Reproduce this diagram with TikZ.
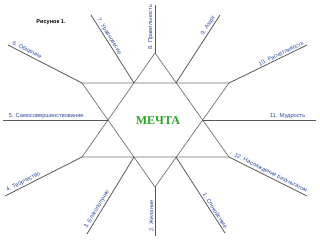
\documentclass[tikz,border=0pt]{standalone}
\usepackage{fontspec}
\setmainfont{Liberation Sans}
\newfontfamily\dreamfont{Liberation Serif}
\usetikzlibrary{positioning}
\definecolor{lblblue}{RGB}{45,75,165}
\definecolor{dreamgreen}{RGB}{40,165,40}

\begin{document}
\begin{tikzpicture}[x=1pt, y=-1pt,
	star/.style={draw=black!55, line width=0.7pt},
	spoke/.style={draw=black!65, line width=0.8pt},
	lbl/.style={text=lblblue, font=\fontsize{5.7}{6}\selectfont, inner sep=1.2pt}]
	\fill[white] (0,0) rectangle (320,243);
	\useasboundingbox (0,0) rectangle (320,243);
	\node (fig) [font=\bfseries\fontsize{5.6}{6}\selectfont] at (51,22) {Рисунок 1.};
	% outer points of the star
	\coordinate (top) at (155,53);
	\coordinate (bot) at (155,187);
	\coordinate (ul) at (82,83);
	\coordinate (ur) at (229,83);
	\coordinate (ll) at (82,157);
	\coordinate (lr) at (229,157);
	% inner points
	\coordinate (iul) at (134,83);
	\coordinate (iur) at (176,83);
	\coordinate (ill) at (134,157);
	\coordinate (ilr) at (176,157);
	\coordinate (ml) at (108,120);
	\coordinate (mr) at (202,120);
	\draw[star] (top) -- (ll) -- (lr) -- cycle;
	\draw[star] (ul) -- (ur) -- (bot) -- cycle;
	\node (dream) [text=dreamgreen, font=\dreamfont\bfseries\fontsize{12}{12}\selectfont] at (158,121) {МЕЧТА};
	% free ends of the spokes
	\coordinate (e1) at (225,233);
	\coordinate (e2) at (155,236);
	\coordinate (e3) at (87,234);
	\coordinate (e4) at (5,196);
	\coordinate (e5) at (3,120);
	\coordinate (e6) at (8,45);
	\coordinate (e7) at (91,15);
	\coordinate (e8) at (155,5);
	\coordinate (e9) at (220,15);
	\coordinate (e10) at (307,45);
	\coordinate (e11) at (316,120);
	\coordinate (e12) at (307,196);
	\path[spoke] (ilr) edge node[lbl, name=l1, pos=0.98, rotate=-57.7, anchor=south east]{1. Спокойствие} (e1)
	             (e2) edge node[lbl, name=l2, pos=0.06, rotate=90, anchor=south west]{2. Желание} (bot)
	             (e3) edge node[lbl, name=l3, pos=0.03, rotate=59.1, anchor=south west]{3. Благополучие} (ill)
	             (e4) edge node[lbl, name=l4, pos=0.03, rotate=26.9, anchor=south west]{4. Творчество} (ll)
	             (e5) edge node[lbl, name=l5, pos=0.04, anchor=south west]{5. Самосовершенствование} (ml)
	             (e6) edge node[lbl, name=l6, pos=0.02, rotate=-27.2, anchor=south west]{6. Общение} (ul)
	             (e7) edge node[lbl, name=l7, pos=0.07, rotate=-58.3, anchor=south west]{7. Уравновесие} (iul)
	             (top) edge node[lbl, name=l8, pos=0.04, rotate=90, anchor=south west]{8. Правильность} (e8)
	             (iur) edge node[lbl, name=l9, pos=0.97, rotate=57.7, anchor=south east]{9. Азарт} (e9)
	             (ur) edge node[lbl, name=l10, pos=0.99, rotate=26, anchor=south east]{10. Расчётливость} (e10)
	             (mr) edge node[lbl, name=l11, pos=0.92, anchor=south east]{11. Мудрость} (e11)
	             (lr) edge node[lbl, name=l12, pos=0.03, rotate=-26.6, anchor=south west]{12. Наслаждение результатом} (e12);
\end{tikzpicture}
\end{document}
